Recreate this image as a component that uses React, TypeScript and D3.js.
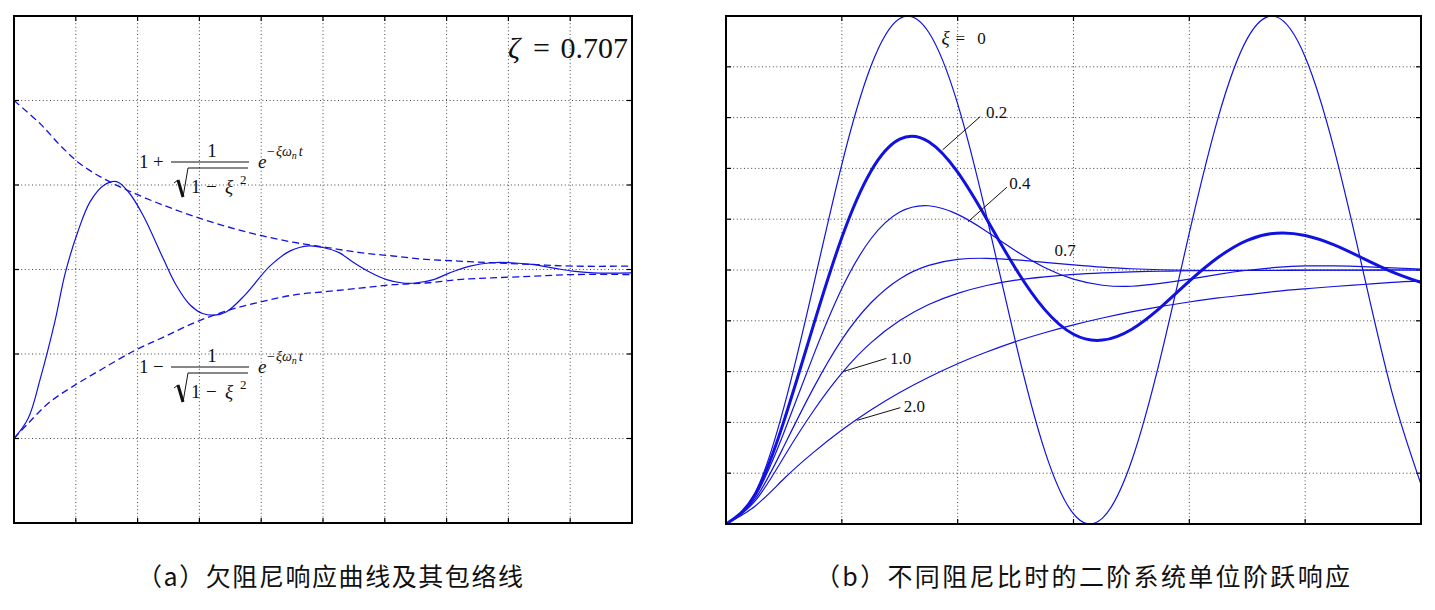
import React from "react";
import * as d3 from "d3";

// ---------- Panel (a): under-damped response and its envelopes ----------
const leftT = [0, 0.23, 0.43, 0.66, 0.83, 1.03, 1.23, 1.46, 1.66, 1.85, 2.09, 2.42, 2.62, 2.85, 3.05, 3.25, 3.44, 3.74, 4.14, 4.47, 4.77, 5.0, 5.26, 5.46, 5.73, 6.03, 6.29, 6.49, 6.79, 7.05, 7.38, 7.72, 8.05, 8.38, 8.71, 9.04, 9.37, 10];
const leftResponse = [0, 0.12, 0.36, 0.69, 0.98, 1.22, 1.40, 1.50, 1.52, 1.46, 1.32, 1.06, 0.91, 0.79, 0.74, 0.73, 0.75, 0.85, 1.02, 1.11, 1.14, 1.13, 1.10, 1.05, 0.99, 0.94, 0.92, 0.92, 0.94, 0.98, 1.02, 1.04, 1.04, 1.03, 1.01, 0.99, 0.98, 0.98];
const envT = [0, 0.43, 0.76, 1.09, 1.49, 1.89, 2.42, 2.95, 3.48, 4.01, 4.54, 5.07, 5.6, 6.13, 6.66, 7.19, 7.72, 8.38, 9.04, 10];
const upperEnv = [2.0, 1.86, 1.73, 1.62, 1.53, 1.46, 1.38, 1.31, 1.25, 1.20, 1.16, 1.13, 1.10, 1.08, 1.06, 1.05, 1.04, 1.03, 1.02, 1.02];
const lowerEnvT = [0, 0.23, 0.56, 0.96, 1.42, 1.95, 2.42, 2.95, 3.48, 4.01, 4.54, 5.07, 5.6, 6.13, 6.66, 7.19, 7.72, 8.38, 9.04, 10];
const lowerEnv = [0, 0.09, 0.21, 0.31, 0.41, 0.52, 0.60, 0.69, 0.76, 0.81, 0.85, 0.87, 0.89, 0.91, 0.92, 0.94, 0.95, 0.96, 0.97, 0.97];
const leftXTicks = [1, 2, 3, 4, 5, 6, 7, 8, 9];
const leftYTicks = [0, 0.5, 1, 1.5, 2];
const leftZetaLabel = "0.707";

// ---------- Panel (b): unit step responses for several damping ratios ----------
const rightT = [0, 0.5, 1, 1.5, 2, 2.5, 3, 3.5, 4, 4.5, 5, 5.5, 6, 6.5, 7, 7.5, 8, 8.5, 9, 9.5, 10, 10.5, 11, 11.5, 12];
const xi0 = [0, 0.122, 0.460, 0.929, 1.416, 1.801, 1.990, 1.936, 1.654, 1.211, 0.716, 0.291, 0.040, 0.023, 0.246, 0.653, 1.146, 1.602, 1.911, 1.997, 1.839, 1.476, 0.996, 0.517, 0.156];
const xi02 = [0, 0.115, 0.405, 0.775, 1.128, 1.388, 1.515, 1.505, 1.385, 1.201, 1.006, 0.845, 0.747, 0.724, 0.766, 0.852, 0.956, 1.050, 1.117, 1.145, 1.136, 1.099, 1.046, 0.993, 0.951];
const xi04 = [0, 0.108, 0.360, 0.658, 0.927, 1.122, 1.228, 1.253, 1.219, 1.152, 1.076, 1.010, 0.964, 0.940, 0.936, 0.947, 0.964, 0.983, 0.999, 1.010, 1.016, 1.016, 1.013, 1.008, 1.004];
const xi07 = [0, 0.098, 0.306, 0.531, 0.726, 0.870, 0.965, 1.018, 1.042, 1.046, 1.040, 1.030, 1.020, 1.011, 1.005, 1.001, 0.999, 0.998, 0.998, 0.998, 0.999, 0.999, 0.999, 1.000, 1.000];
const xi10 = [0, 0.090, 0.264, 0.442, 0.594, 0.713, 0.801, 0.864, 0.908, 0.939, 0.960, 0.973, 0.983, 0.989, 0.993, 0.995, 0.997, 0.998, 0.999, 0.999, 1.000, 1.000, 1.000, 1.000, 1.000];
const xi20 = [0, 0.070, 0.178, 0.280, 0.370, 0.449, 0.518, 0.578, 0.631, 0.677, 0.718, 0.753, 0.784, 0.811, 0.835, 0.856, 0.874, 0.890, 0.903, 0.916, 0.926, 0.935, 0.943, 0.951, 0.957];
const rightSeries = [
  { name: "0", values: xi0, bold: false },
  { name: "0.7", values: xi07, bold: false },
  { name: "1.0", values: xi10, bold: false },
  { name: "2.0", values: xi20, bold: false },
  { name: "0.4", values: xi04, bold: false },
  { name: "0.2", values: xi02, bold: true },
];
const rightXTicks = [2, 4, 6, 8, 10];
const rightYTicks = [0.2, 0.4, 0.6, 0.8, 1.0, 1.2, 1.4, 1.6, 1.8];
const rightLabels = [
  { text: "0.2", tx: 4.49, ty: 1.60, line: [4.39, 1.604, 3.74, 1.473] },
  { text: "0.4", tx: 4.89, ty: 1.32, line: [4.85, 1.326, 4.18, 1.19] },
  { text: "0.7", tx: 5.67, ty: 1.055, line: null },
  { text: "1.0", tx: 2.83, ty: 0.63, line: [2.77, 0.652, 2.02, 0.60] },
  { text: "2.0", tx: 3.07, ty: 0.44, line: [3.01, 0.458, 2.26, 0.408] },
];

const captionA = "（a）欠阻尼响应曲线及其包络线";
const captionB = "（b）不同阻尼比时的二阶系统单位阶跃响应";

const BLUE = "#1212e0";
const SERIF = "'Liberation Serif', 'Times New Roman', serif";
const CJK = "'Noto Sans CJK SC', 'Noto Sans', sans-serif";

function Frame({ x, y, xTicks, yTicks, clipId }: any) {
  const [x0, x1] = x.range();
  const [y0, y1] = y.range();
  const tl = 5;
  return (
    <g>
      <defs>
        <clipPath id={clipId}>
          <rect x={x0} y={y1} width={x1 - x0} height={y0 - y1} />
        </clipPath>
      </defs>
      {xTicks.map((t: number) => (
        <line key={"gx" + t} x1={x(t)} x2={x(t)} y1={y1} y2={y0} stroke="#444" strokeWidth={1} strokeDasharray="1,2.6" />
      ))}
      {yTicks.map((t: number) => (
        <line key={"gy" + t} x1={x0} x2={x1} y1={y(t)} y2={y(t)} stroke="#444" strokeWidth={1} strokeDasharray="1,2.6" />
      ))}
      {xTicks.map((t: number) => (
        <g key={"tx" + t}>
          <line x1={x(t)} x2={x(t)} y1={y0} y2={y0 - tl} stroke="#000" strokeWidth={1.2} />
          <line x1={x(t)} x2={x(t)} y1={y1} y2={y1 + tl} stroke="#000" strokeWidth={1.2} />
        </g>
      ))}
      {yTicks.map((t: number) => (
        <g key={"ty" + t}>
          <line x1={x0} x2={x0 + tl} y1={y(t)} y2={y(t)} stroke="#000" strokeWidth={1.2} />
          <line x1={x1} x2={x1 - tl} y1={y(t)} y2={y(t)} stroke="#000" strokeWidth={1.2} />
        </g>
      ))}
    </g>
  );
}

function Border({ x, y }: any) {
  const [x0, x1] = x.range();
  const [y0, y1] = y.range();
  return <rect x={x0} y={y1} width={x1 - x0} height={y0 - y1} fill="none" stroke="#000" strokeWidth={2} />;
}

function EnvFormula({ x0, yb, sign }: { x0: number; yb: number; sign: string }) {
  const fs = 19;
  return (
    <g fontFamily={SERIF} fill="#111">
      <text x={x0} y={yb + 6} fontSize={fs}>1</text>
      <text x={x0 + 14} y={yb + 6} fontSize={fs}>{sign}</text>
      <line x1={x0 + 32} x2={x0 + 110} y1={yb} y2={yb} stroke="#111" strokeWidth={1.1} />
      <text x={x0 + 73} y={yb - 5} fontSize={fs} textAnchor="middle">1</text>
      <path d={`M${x0 + 35},${yb + 21} L${x0 + 39},${yb + 18}`} stroke="#111" strokeWidth={1} fill="none" />
      <path d={`M${x0 + 39},${yb + 18} L${x0 + 44},${yb + 35}`} stroke="#111" strokeWidth={3} fill="none" />
      <path d={`M${x0 + 44},${yb + 35} L${x0 + 49},${yb + 6} L${x0 + 109},${yb + 6}`} stroke="#111" strokeWidth={1} fill="none" />
      <text x={x0 + 52} y={yb + 31} fontSize={fs}>1</text>
      <text x={x0 + 67} y={yb + 31} fontSize={fs}>−</text>
      <text x={x0 + 86} y={yb + 31} fontSize={fs} fontStyle="italic">ξ</text>
      <text x={x0 + 101} y={yb + 22} fontSize={13}>2</text>
      <text x={x0 + 119} y={yb + 6} fontSize={fs} fontStyle="italic">e</text>
      <text x={x0 + 128} y={yb - 6} fontSize={14}>
        <tspan>−</tspan>
        <tspan fontStyle="italic" dx={1}>ξω</tspan>
        <tspan fontStyle="italic" fontSize={10} dy={3}>n</tspan>
        <tspan fontStyle="italic" dy={-3} dx={2}>t</tspan>
      </text>
    </g>
  );
}

export default function App() {
  const xL = d3.scaleLinear().domain([0, 10]).range([14, 632]);
  const yL = d3.scaleLinear().domain([-0.5, 2.5]).range([523, 16]);
  const xR = d3.scaleLinear().domain([0, 12]).range([726, 1421]);
  const yR = d3.scaleLinear().domain([0, 2]).range([524, 16]);

  const lineL = (ts: number[], vs: number[]) =>
    d3.line<number>().x((_, i) => xL(ts[i])).y((v) => yL(v)).curve(d3.curveCatmullRom.alpha(0.5))(vs) || "";
  const lineR = (vs: number[]) =>
    d3.line<number>().x((_, i) => xR(rightT[i])).y((v) => yR(v)).curve(d3.curveNatural)(vs) || "";

  return (
    <svg width={1435} height={610} style={{ position: "absolute", left: 0, top: 0, background: "#fff" }}>
      <rect x={0} y={0} width={1435} height={610} fill="#fff" />

      {/* Panel (a) */}
      <Frame x={xL} y={yL} xTicks={leftXTicks} yTicks={leftYTicks} clipId="clipL" />
      <g clipPath="url(#clipL)" fill="none" stroke={BLUE}>
        <path d={lineL(envT, upperEnv)} strokeWidth={1.3} strokeDasharray="7,4" />
        <path d={lineL(lowerEnvT, lowerEnv)} strokeWidth={1.3} strokeDasharray="7,4" />
        <path d={lineL(leftT, leftResponse)} strokeWidth={1.2} />
      </g>
      <Border x={xL} y={yL} />
      <g fontFamily={SERIF} fill="#111" fontSize={30}>
        <text x={508} y={58} fontStyle="italic">ζ</text>
        <text x={533} y={58}>=</text>
        <text x={628} y={58} textAnchor="end">{leftZetaLabel}</text>
      </g>
      <EnvFormula x0={139} yb={162} sign="+" />
      <EnvFormula x0={139} yb={367} sign="−" />

      {/* Panel (b) */}
      <Frame x={xR} y={yR} xTicks={rightXTicks} yTicks={rightYTicks} clipId="clipR" />
      <g clipPath="url(#clipR)" fill="none" stroke={BLUE}>
        {rightSeries.map((s) => (
          <path key={s.name} d={lineR(s.values)} strokeWidth={s.bold ? 3 : 1.2} />
        ))}
      </g>
      <Border x={xR} y={yR} />
      <g fontFamily={SERIF} fill="#111" fontSize={17}>
        <text x={xR(3.72)} y={yR(1.89)}>
          <tspan fontStyle="italic" fontSize={19}>ξ</tspan>
          <tspan dx={6}>=</tspan>
          <tspan dx={12}>0</tspan>
        </text>
        {rightLabels.map((l) => (
          <g key={l.text}>
            <text x={xR(l.tx)} y={yR(l.ty)}>{l.text}</text>
            {l.line && (
              <line x1={xR(l.line[0])} y1={yR(l.line[1])} x2={xR(l.line[2])} y2={yR(l.line[3])} stroke="#111" strokeWidth={1} />
            )}
          </g>
        ))}
      </g>

      {/* Captions */}
      <text x={137} y={586} fontFamily={CJK} fontSize={25} fill="#111" textLength={386} lengthAdjust="spacing">{captionA}</text>
      <text x={815} y={586} fontFamily={CJK} fontSize={25} fill="#111" textLength={535} lengthAdjust="spacing">{captionB}</text>
    </svg>
  );
}
